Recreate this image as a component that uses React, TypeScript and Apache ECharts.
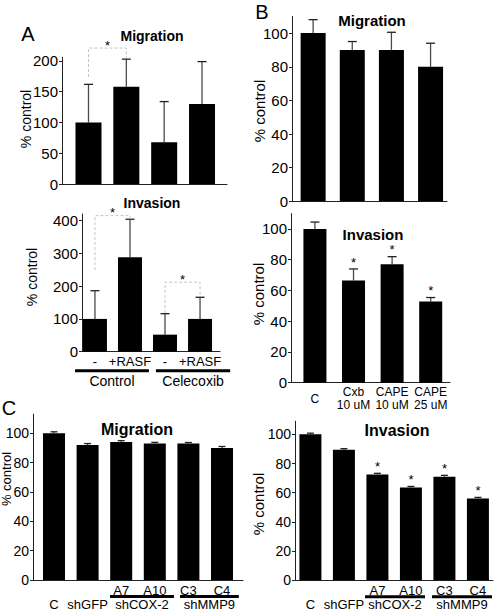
import React, { useEffect, useRef } from 'react';
import * as echarts from 'echarts';

const FONT = '"Liberation Sans", Arial, Helvetica, sans-serif';

// ---------------- Panel A ----------------
const aCategories = ['-', '+RASF', '-', '+RASF'];
const aGroups = ['Control', 'Celecoxib'];
const aMigration = [100, 158, 68, 130];
const aMigrationErr = [62, 45, 66, 69];
const aInvasion = [100, 288, 52, 100];
const aInvasionErr = [86, 116, 64, 66];
const aMigrationTicks = [0, 50, 100, 150, 200];
const aInvasionTicks = [0, 100, 200, 300, 400];
// [x1, x2, top, leftBottom, rightBottom]
const aMigrationBrackets = [[0, 1, 221, 174, 205]];
const aInvasionBrackets = [
  [0, 1, 415, 249, 404],
  [2, 3, 212, 118, 168],
];

// ---------------- Panel B ----------------
const bCategories = ['C', 'Cxb\n10 uM', 'CAPE\n10 uM', 'CAPE\n25 uM'];
const bMigration = [100, 90, 90, 80];
const bMigrationErr = [8, 5, 10.5, 14];
const bInvasion = [100, 66.5, 77, 52.8];
const bInvasionErr = [4.5, 7.5, 5, 2.6];
const bInvasionSig = [false, true, true, true];
const bTicks = [0, 20, 40, 60, 80, 100];

// ---------------- Panel C ----------------
const cCategories = ['C', 'shGFP', 'A7', 'A10', 'C3', 'C4'];
const cGroupOf = [-1, -1, 0, 0, 1, 1];
const cGroups = ['shCOX-2', 'shMMP9'];
const cMigration = [100, 92, 94, 93, 93, 90];
const cMigrationErr = [1, 1, 1, 0.8, 0.7, 1];
const cInvasion = [100, 89.5, 72.5, 63.5, 71, 56];
const cInvasionErr = [0.8, 0.7, 0.8, 0.8, 0.9, 0.8];
const cInvasionSig = [false, false, true, true, true, true];
const cTicks = [0, 20, 40, 60, 80, 100];

// ---------------- Layout ----------------
type Panel = {
  left: number; top: number; width: number; height: number;
  yMax: number; xMin: number; xMax: number; barWidth: number;
  tickFont: number; capHalf: number;
  values: number[]; errs: number[]; ticks: number[];
  sig?: boolean[]; brackets?: number[][];
};

const panels: Panel[] = [
  { left: 62, top: 57.3, width: 165, height: 126.7, yMax: 206, xMin: -0.7, xMax: 3.66, barWidth: 26, tickFont: 15, capHalf: 4.5,
    values: aMigration, errs: aMigrationErr, ticks: aMigrationTicks, brackets: aMigrationBrackets },
  { left: 82, top: 214, width: 138, height: 137.7, yMax: 420, xMin: -0.37, xMax: 3.57, barWidth: 24, tickFont: 15, capHalf: 4.5,
    values: aInvasion, errs: aInvasionErr, ticks: aInvasionTicks, brackets: aInvasionBrackets },
  { left: 292, top: 16.3, width: 155, height: 185, yMax: 110, xMin: -0.54, xMax: 3.42, barWidth: 25, tickFont: 15, capHalf: 4.5,
    values: bMigration, errs: bMigrationErr, ticks: bTicks },
  { left: 291, top: 213.6, width: 159, height: 169.1, yMax: 110, xMin: -0.62, xMax: 3.5, barWidth: 23, tickFont: 15, capHalf: 4.5,
    values: bInvasion, errs: bInvasionErr, ticks: bTicks, sig: bInvasionSig },
  { left: 33, top: 414.2, width: 210, height: 165.8, yMax: 113, xMin: -0.625, xMax: 5.625, barWidth: 22, tickFont: 14, capHalf: 3.5,
    values: cMigration, errs: cMigrationErr, ticks: cTicks },
  { left: 295, top: 421.2, width: 198, height: 159.1, yMax: 109, xMin: -0.46, xMax: 5.45, barWidth: 22, tickFont: 14, capHalf: 3.5,
    values: cInvasion, errs: cInvasionErr, ticks: cTicks, sig: cInvasionSig },
];

const aGroupSpans = [[-0.57, 1.54], [1.74, 3.86]];
const cLeftGroupSpans = [[1.667, 3.57], [3.75, 5.5]];
const cRightGroupSpans = [[1.63, 3.42], [3.63, 5.42]];

const titles = [
  { text: 'Migration', x: 152, y: 36, size: 14 },
  { text: 'Invasion', x: 152, y: 203, size: 14 },
  { text: 'Migration', x: 372, y: 20, size: 15 },
  { text: 'Invasion', x: 373, y: 234, size: 15 },
  { text: 'Migration', x: 137, y: 429, size: 16 },
  { text: 'Invasion', x: 397, y: 430, size: 16 },
];
const letters = [
  { text: 'A', x: 28, y: 34 },
  { text: 'B', x: 262, y: 12 },
  { text: 'C', x: 9, y: 408 },
];
const yNames = [
  { x: 26, y: 119, size: 14 },
  { x: 32, y: 277, size: 14 },
  { x: 259, y: 111, size: 15 },
  { x: 258, y: 294, size: 15 },
  { x: 6, y: 479, size: 13 },
  { x: 258, y: 504, size: 15 },
];

const STAR_SIZE = 13;
const STAR_GAP = 10;

function txt(text: string, x: number, y: number, size: number, extra: any = {}) {
  return {
    type: 'text', x, y, silent: true, z: 10,
    style: {
      text, fill: '#000', fontSize: size, fontFamily: FONT,
      align: 'center', verticalAlign: 'middle', ...extra,
    },
  };
}

const starStyle = {
  text: '*', fill: '#000', fontSize: STAR_SIZE, fontFamily: FONT,
  align: 'center', verticalAlign: 'middle',
};

export default function App() {
  const ref = useRef<HTMLDivElement>(null);
  useEffect(() => {
    const el = ref.current!;
    const chart = echarts.init(el, null, { renderer: 'svg' });
    const grid: any[] = [];
    const xAxis: any[] = [];
    const yAxis: any[] = [];
    const series: any[] = [];

    panels.forEach((p, k) => {
      grid.push({ left: p.left, top: p.top, width: p.width, height: p.height, containLabel: false, outerBoundsMode: 'none' });
      xAxis.push({
        type: 'value', gridIndex: k, min: p.xMin, max: p.xMax,
        axisLine: { show: true, onZero: false, lineStyle: { color: '#222', width: 1 } },
        axisTick: { show: false }, axisLabel: { show: false }, splitLine: { show: false },
      });
      yAxis.push({
        type: 'value', gridIndex: k, min: 0, max: p.yMax,
        axisLine: { show: true, onZero: false, lineStyle: { color: '#222', width: 1 } },
        axisTick: { show: true, length: 3, customValues: p.ticks, lineStyle: { color: '#222' } },
        axisLabel: { customValues: p.ticks, fontSize: p.tickFont, color: '#000', fontFamily: FONT, margin: 4 },
        splitLine: { show: false },
      });
      series.push({
        type: 'bar', xAxisIndex: k, yAxisIndex: k, silent: true,
        data: p.values.map((v, i) => [i, v]),
        barWidth: p.barWidth, itemStyle: { color: '#000' }, z: 3,
      });
      series.push({
        type: 'custom', xAxisIndex: k, yAxisIndex: k, silent: true, z: 2,
        data: p.values.map((v, i) => [i, v, p.errs[i]]),
        renderItem: (_params: any, api: any) => {
          const x = api.value(0), v = api.value(1), e = api.value(2);
          const base = api.coord([x, v]);
          const top = api.coord([x, v + e]);
          return {
            type: 'group',
            children: [
              { type: 'line', shape: { x1: base[0], y1: base[1], x2: top[0], y2: top[1] }, style: { stroke: '#4a4a4a', lineWidth: 1.3 } },
              { type: 'line', shape: { x1: top[0] - p.capHalf, y1: top[1], x2: top[0] + p.capHalf, y2: top[1] }, style: { stroke: '#222', lineWidth: 1.3 } },
            ],
          };
        },
      });
      if (p.sig) {
        const sigData = p.values.map((v, i) => [i, v + p.errs[i], p.sig![i] ? 1 : 0]).filter((d) => d[2] === 1);
        series.push({
          type: 'custom', xAxisIndex: k, yAxisIndex: k, silent: true, z: 5,
          data: sigData,
          renderItem: (_params: any, api: any) => {
            const pt = api.coord([api.value(0), api.value(1)]);
            return { type: 'text', x: pt[0], y: pt[1] - STAR_GAP + STAR_SIZE * 0.25, style: { ...starStyle } };
          },
        });
      }
      if (p.brackets) {
        series.push({
          type: 'custom', xAxisIndex: k, yAxisIndex: k, silent: true, z: 4,
          data: p.brackets,
          renderItem: (_params: any, api: any) => {
            const x1 = api.value(0), x2 = api.value(1), t = api.value(2), lb = api.value(3), rb = api.value(4);
            const pLB = api.coord([x1, lb]);
            const pLT = api.coord([x1, t]);
            const pRT = api.coord([x2, t]);
            const pRB = api.coord([x2, rb]);
            return {
              type: 'group',
              children: [
                {
                  type: 'polyline',
                  shape: { points: [pLB, pLT, pRT, pRB] },
                  style: { stroke: '#c4c4c4', lineWidth: 1, lineDash: [3, 2], fill: 'none' },
                },
                { type: 'text', x: (pLT[0] + pRT[0]) / 2, y: pLT[1] - 6 + STAR_SIZE * 0.25, style: { ...starStyle } },
              ],
            };
          },
        });
      }
    });

    chart.setOption({
      animation: false,
      backgroundColor: '#fff',
      grid, xAxis, yAxis, series,
    });

    const px = (k: number, x: number, y: number) => chart.convertToPixel({ gridIndex: k }, [x, y]) as number[];
    const g: any[] = [];

    titles.forEach((t) => g.push(txt(t.text, t.x, t.y, t.size, { fontWeight: 'bold' })));
    letters.forEach((t) => g.push(txt(t.text, t.x, t.y, 20)));
    yNames.forEach((t) => {
      const e: any = txt('% control', t.x, t.y, t.size);
      e.rotation = Math.PI / 2;
      g.push(e);
    });

    // Panel A bottom x labels & groups
    aCategories.forEach((c, i) => {
      const p = px(1, i, 0);
      g.push(txt(c, p[0], p[1] + 10, 13));
    });
    aGroups.forEach((name, j) => {
      const a = px(1, aGroupSpans[j][0], 0);
      const b = px(1, aGroupSpans[j][1], 0);
      g.push({ type: 'line', silent: true, shape: { x1: a[0], y1: a[1] + 19, x2: b[0], y2: b[1] + 19 }, style: { stroke: '#000', lineWidth: 3 } });
      g.push(txt(name, (a[0] + b[0]) / 2, a[1] + 29.5, 14));
    });

    // Panel B bottom x labels
    bCategories.forEach((c, i) => {
      const p = px(3, i, 0);
      g.push(txt(c, p[0], p[1] + 16, 12, { lineHeight: 13 }));
    });

    // Panel C x labels & groups
    const cLabels = (k: number, spans: number[][]) => {
      cCategories.forEach((c, i) => {
        const p = px(k, i, 0);
        const dy = cGroupOf[i] >= 0 ? 10 : 24;
        g.push(txt(c, p[0], p[1] + dy, 13));
      });
      cGroups.forEach((name, j) => {
        const a = px(k, spans[j][0], 0);
        const b = px(k, spans[j][1], 0);
        g.push({ type: 'line', silent: true, shape: { x1: a[0], y1: a[1] + 16.5, x2: b[0], y2: b[1] + 16.5 }, style: { stroke: '#000', lineWidth: 3 } });
        g.push(txt(name, (a[0] + b[0]) / 2, a[1] + 24, 13));
      });
    };
    cLabels(4, cLeftGroupSpans);
    cLabels(5, cRightGroupSpans);

    chart.setOption({ graphic: g });

    return () => chart.dispose();
  }, []);

  return (
    <div
      ref={ref}
      style={{ position: 'absolute', left: 0, top: 0, width: 494, height: 612, background: '#fff' }}
    />
  );
}
